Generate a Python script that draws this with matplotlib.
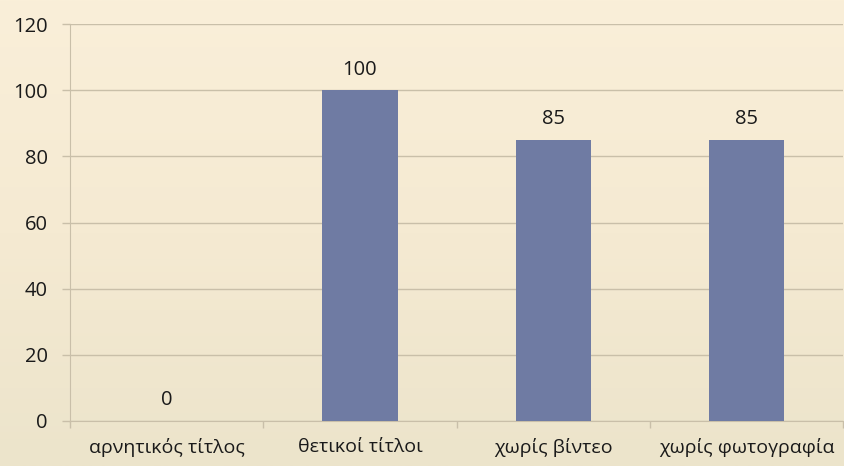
import matplotlib
matplotlib.use("Agg")
import matplotlib.pyplot as plt
import numpy as np
from matplotlib.colors import LinearSegmentedColormap

categories = ["αρνητικός τίτλος", "θετικοί τίτλοι", "χωρίς βίντεο", "χωρίς φωτογραφία"]
values = [0, 100, 85, 85]
yticks = [0, 20, 40, 60, 80, 100, 120]

plt.rcParams['font.family'] = ['Open Sans', 'DejaVu Sans']

fig = plt.figure(figsize=(8.44, 4.66), dpi=100)
# background gradient
bg = fig.add_axes([0, 0, 1, 1], zorder=-10)
cmap = LinearSegmentedColormap.from_list("bg", ["#FAEFD9", "#F5EAD2", "#ECE4CB"])
grad = np.linspace(0, 1, 256).reshape(-1, 1)
bg.imshow(grad, aspect='auto', cmap=cmap, extent=[0, 1, 0, 1], origin='upper')
bg.axis('off')

ax = fig.add_axes([70/844, 1-421/466, 1-70/844 - 0.001, (421-24)/466])
ax.patch.set_alpha(0)
x = np.arange(len(categories))
bars = ax.bar(x, values, width=0.39, color="#6F7BA3", zorder=3)
for xi, v in zip(x, values):
    ax.text(xi, v + 3.2, str(v), ha='center', va='bottom', fontsize=14.5, color="#1a1a1a")

ax.set_xlim(-0.5, len(categories) - 0.5)
ax.set_ylim(0, 120)
ax.set_yticks(yticks)
ax.set_yticklabels([str(t) for t in yticks], fontsize=14.5, color="#1a1a1a")
ax.yaxis.grid(True, color="#C9BFA9", linewidth=1.0, zorder=0)
ax.set_axisbelow(True)

ax.set_xticks(x)
ax.set_xticklabels(categories, fontsize=14, color="#1a1a1a")
ax.set_xticks(np.arange(len(categories) + 1) - 0.5, minor=True)
ax.tick_params(axis='x', which='major', length=0, pad=12)
ax.tick_params(axis='x', which='minor', length=5, color="#C9BFA9", width=1)
ax.tick_params(axis='y', length=6, color="#C9BFA9", width=1, pad=10)

for s in ['top', 'right']:
    ax.spines[s].set_visible(False)
ax.spines['left'].set_color("#C9BFA9")
ax.spines['bottom'].set_color("#C9BFA9")

fig.savefig("out.png", dpi=100)
